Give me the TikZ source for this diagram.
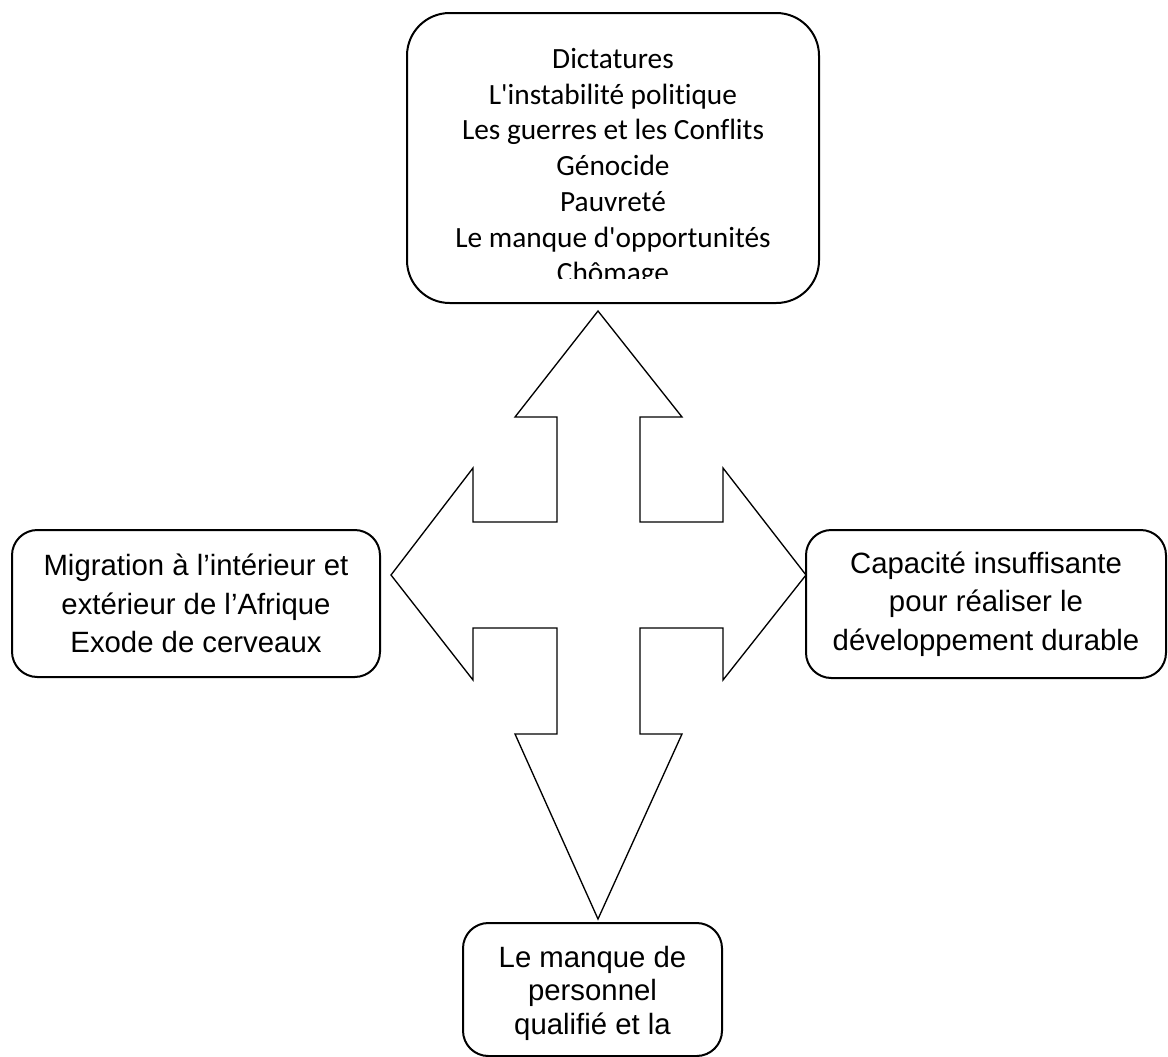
\documentclass[tikz,border=0pt]{standalone}
\usepackage{fontspec}
\setmainfont{Liberation Sans}
\newfontfamily\carlito{Carlito}[Ligatures={TeXOff,NoCommon}]
\usetikzlibrary{positioning}

\begin{document}
\begin{tikzpicture}[
  x=0.75pt, y=-0.75pt,
  cadre/.style={rectangle, draw=black, line width=1.5pt, rounded corners=19pt, inner sep=0pt},
  texte/.style={align=center, inner sep=0pt, font=\fontsize{22}{29}\selectfont},
  croix/.style={draw=black, line width=1pt, fill=white}
]
\useasboundingbox (0,0) rectangle (1168,1057);

% Causes (texte coupé en bas)
\node[cadre, rounded corners=32pt, minimum width=309pt, minimum height=217.5pt] (causes) at (613,158) {};
\begin{scope}
  \clip (causes.north west) rectangle ([yshift=19.5pt]causes.south east);
  \node[texte, font=\carlito\fontsize{22}{26.8}\selectfont, below=27pt of causes.north] (listecauses) {Dictatures\\L'instabilité politique\\Les guerres et les Conflits\\Génocide\\Pauvreté\\Le manque d'opportunités\\Chômage};
\end{scope}

% Flèche à quatre branches
\draw[croix] (598,311) -- (682,417) -- (640,417) -- (640,522) -- (723,522) -- (723,468) -- (806,575)
  -- (723,680) -- (723,628) -- (640,628) -- (640,734) -- (682,734) -- (598,919) -- (515,734)
  -- (557,734) -- (557,628) -- (473,628) -- (473,680) -- (391,575) -- (473,468) -- (473,522)
  -- (557,522) -- (557,417) -- (515,417) -- cycle;

% Conséquences
\node[cadre, texte, minimum width=276pt, minimum height=110.25pt] (migration) at (196,603.5) {Migration à l’intérieur et\\extérieur de l’Afrique\\Exode de cerveaux};
\node[cadre, texte, minimum width=270pt, minimum height=111pt] (capacite) at (986,604) {Capacité insuffisante\\pour réaliser le\\développement durable};
\node[cadre, minimum width=194.25pt, minimum height=99.75pt] (personnel) at (592.5,989.5) {};
\node[texte, font=\fontsize{22}{25}\selectfont, below=18pt of personnel.north] (textepersonnel) {Le manque de\\personnel\\qualifié et la};

\end{tikzpicture}
\end{document}
